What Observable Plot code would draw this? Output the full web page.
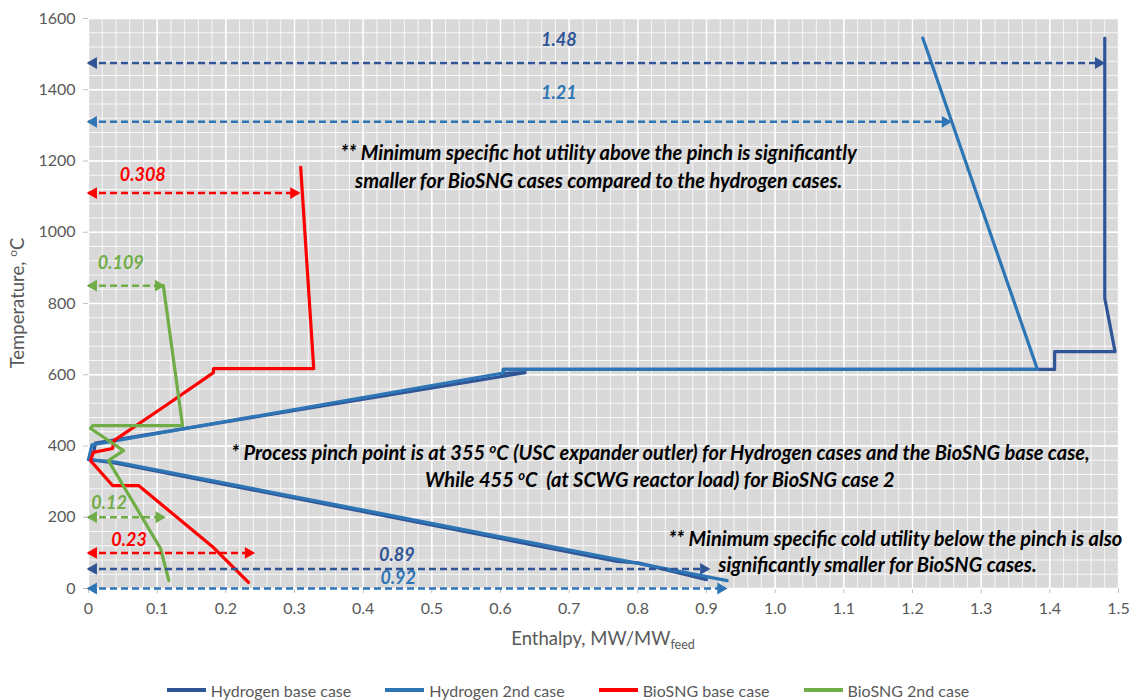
<!DOCTYPE html>
<html><head><meta charset="utf-8">
<script src="https://cdn.jsdelivr.net/npm/d3@7"></script>
<script src="https://cdn.jsdelivr.net/npm/@observablehq/plot@0.6"></script>
<style>
body{margin:0;background:#fff;font-family:Lato,"Open Sans",sans-serif;}
#legend{display:flex;justify-content:center;align-items:center;gap:34px;height:20px;margin-top:20px;font-size:16px;color:#595959;}
#legend .item{display:flex;align-items:center;gap:5px;}
#legend .sw{display:inline-block;width:39px;height:4px;}
</style></head><body>
<div id="chart"></div>
<div id="legend"></div>
<script>
// ---- data ----
const caseNames = ["Hydrogen base case","Hydrogen 2nd case","BioSNG base case","BioSNG 2nd case"];
const caseColors = ["#2F5597","#2E75B6","#FF0000","#70AD47"];

// [enthalpy MW/MWfeed, temperature °C]
const hydrogenBase = [[1.48,1545],[1.48,815],[1.495,665],[1.407,665],[1.407,615],[0.604,615],[0.604,604],[0.636,606],[0.01,408],[0.008,385],[0,362],[0.04,352],[0.77,76],[0.80,72],[0.90,25]];
const hydrogen2nd = [[1.215,1545],[1.382,615],[0.604,615],[0.604,605],[0.005,403],[0,362],[0.04,355],[0.93,22]];
const biosngBase = [[0.309,1182],[0.328,617],[0.182,617],[0.182,606],[0.112,513],[0.037,415],[0.035,393],[0.007,382],[0.003,359],[0.035,289],[0.073,289],[0.182,115],[0.233,17]];
const biosng2nd = [[0.109,850],[0.137,457],[0.006,457],[0.003,449],[0.051,387],[0.029,359],[0.105,112],[0.117,22]];

// utility arrows
const arrowLabels = ["1.48","1.21","0.308","0.109","0.12","0.23","0.89","0.92"];
const arrowCase = ["Hydrogen base case","Hydrogen 2nd case","BioSNG base case","BioSNG 2nd case","BioSNG 2nd case","BioSNG base case","Hydrogen base case","Hydrogen 2nd case"];
const arrowTemp = [1475,1310,1110,850,200,100,55,0];
const arrowEnd = [1.478,1.255,0.306,0.109,0.11,0.24,0.903,0.928];
const arrowLabelX = [0.685,0.685,0.079,0.047,0.030,0.059,0.449,0.451];
const arrowLabelY = [1538,1390,1160,912,239,135,93,28];

// notes
const noteLines = [
  "** Minimum specific hot utility above the pinch is significantly",
  "smaller for BioSNG cases compared to the hydrogen cases.",
  "* Process pinch point is at 355 {o}C (USC expander outler) for Hydrogen cases and the BioSNG base case,",
  "While 455 {o}C\u00a0 (at SCWG reactor load) for BioSNG case 2",
  "** Minimum specific cold utility below the pinch is also",
  "significantly smaller for BioSNG cases."
];
const noteX = [0.743,0.743,0.833,0.832,1.175,1.149];
const noteY = [1221,1142,379,303,138,65];

const xTicks = [0,0.1,0.2,0.3,0.4,0.5,0.6,0.7,0.8,0.9,1.0,1.1,1.2,1.3,1.4,1.5];
const yTicks = [0,200,400,600,800,1000,1200,1400,1600];

// ---- build tables ----
const seriesPoints = [hydrogenBase, hydrogen2nd, biosngBase, biosng2nd];
const lineRows = seriesPoints.flatMap((pts, i) => pts.map(([x, y]) => ({x, y, case: caseNames[i]})));
const arrowRows = arrowLabels.map((label, i) => ({label, case: arrowCase[i], t: arrowTemp[i], end: arrowEnd[i], lx: arrowLabelX[i], ly: arrowLabelY[i]}));
const noteRows = noteLines.map((text, i) => ({text, x: noteX[i], y: noteY[i]}));
const minorX = d3.range(0, 76).map(i => i * 0.02);
const minorY = d3.range(0, 41).map(i => i * 40);

const chart = Plot.plot({
  width: 1136, height: 660,
  marginLeft: 88, marginRight: 18, marginTop: 18, marginBottom: 72,
  style: {fontFamily: "Lato, sans-serif", fontSize: "16px", color: "#595959", background: "white"},
  x: {domain: [0, 1.5], ticks: xTicks, tickFormat: d => d === 0 ? "0" : d.toFixed(1), tickSize: 5, tickPadding: 9, label: null},
  y: {domain: [0, 1600], ticks: yTicks, tickFormat: d => String(d), tickSize: 5, tickPadding: 8, label: null},
  color: {domain: caseNames, range: caseColors},
  marks: [
    Plot.frame({fill: "#d9d9d9", stroke: null}),
    Plot.ruleX(minorX, {stroke: "white", strokeWidth: 0.8}),
    Plot.ruleY(minorY, {stroke: "white", strokeWidth: 0.8}),
    Plot.ruleX(xTicks, {stroke: "white", strokeWidth: 1.4}),
    Plot.ruleY(yTicks, {stroke: "white", strokeWidth: 1.4}),
    Plot.line(lineRows, {x: "x", y: "y", z: "case", stroke: "case", strokeWidth: 3.2}),
    Plot.ruleY(arrowRows, {x1: 0, x2: "end", y: "t", stroke: "case", strokeWidth: 2.5, strokeDasharray: "7,4"}),
    Plot.dot(arrowRows, {x: "end", y: "t", symbol: "triangle", rotate: 90, r: 4.4, fill: "case", stroke: null, dx: -5}),
    Plot.dot(arrowRows, {x: 0, y: "t", symbol: "triangle", rotate: -90, r: 4.4, fill: "case", stroke: null, dx: 5}),
    Plot.text(arrowRows, {x: "lx", y: "ly", text: "label", fill: "case", fontWeight: "bold", fontStyle: "italic", fontSize: 18, fontFamily: "Lato, sans-serif"}),
    Plot.text(noteRows, {x: "x", y: "y", text: "text", fill: "black", fontWeight: "bold", fontStyle: "italic", fontSize: 20, fontFamily: "Lato, sans-serif"})
  ]
});

// superscript "o"
const NS = "http://www.w3.org/2000/svg";
function supify(node) {
  const s = node.textContent;
  if (!s.includes("{o}")) return;
  const parts = s.split("{o}");
  node.textContent = "";
  parts.forEach((p, i) => {
    if (i > 0) {
      const t = document.createElementNS(NS, "tspan");
      t.setAttribute("dy", "-7");
      t.setAttribute("font-size", "0.65em");
      t.textContent = "o";
      node.appendChild(t);
    }
    const t2 = document.createElementNS(NS, "tspan");
    if (i > 0) t2.setAttribute("dy", "7");
    t2.textContent = p;
    node.appendChild(t2);
  });
}
chart.querySelectorAll("text").forEach(supify);
chart.querySelectorAll('[aria-label$="axis tick"]').forEach(g => g.setAttribute("stroke", "#bfbfbf"));

const svg = d3.select(chart);
const yl = svg.append("text").attr("transform", "translate(24,303) rotate(-90)").attr("text-anchor", "middle")
  .attr("fill", "#595959").style("font-size", "18.5px");
yl.append("tspan").text("Temperature, ");
yl.append("tspan").attr("dy", -7).style("font-size", "12px").text("o");
yl.append("tspan").attr("dy", 7).text("C");
const xl = svg.append("text").attr("x", 603).attr("y", 645).attr("text-anchor", "middle")
  .attr("fill", "#595959").style("font-size", "18.5px");
xl.append("tspan").text("Enthalpy, MW/MW");
xl.append("tspan").attr("dy", 4).style("font-size", "12.5px").text("feed");

document.getElementById("chart").appendChild(chart);

const legend = d3.select("#legend");
caseNames.forEach((name, i) => {
  const it = legend.append("div").attr("class", "item");
  it.append("span").attr("class", "sw").style("background", caseColors[i]);
  it.append("span").text(name);
});
</script>
</body></html>
